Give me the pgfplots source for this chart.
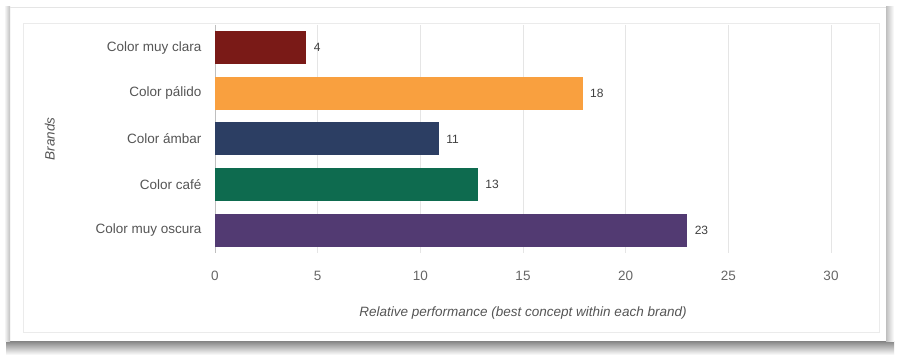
\documentclass[border=0pt]{standalone}
\usepackage{pgfplots}
\pgfplotsset{compat=1.18}
\usepackage{fontspec}
\setmainfont{Liberation Sans}
\definecolor{cRed}{HTML}{7A1A17}
\definecolor{cOrange}{HTML}{F9A03F}
\definecolor{cNavy}{HTML}{2C3E63}
\definecolor{cGreen}{HTML}{0E6B4F}
\definecolor{cPurple}{HTML}{523A72}
\definecolor{tickgray}{HTML}{666666}
\definecolor{labgray}{HTML}{555555}
\begin{document}
\begin{tikzpicture}
\useasboundingbox (0,0) rectangle (898pt,358pt);
\fill[white] (0,0) rectangle (898pt,358pt);
% card shadow / frame
\shade[top color=black!45, bottom color=white] (6pt,3pt) rectangle (894pt,16pt);
\shade[left color=white, right color=black!25] (4pt,16pt) rectangle (10pt,351pt);
\shade[left color=black!25, right color=white] (886pt,16pt) rectangle (894pt,351pt);
\draw[black!10, line width=0.8pt] (10pt,351pt) -- (886pt,351pt);
\draw[black!8, line width=0.8pt] (23pt,26pt) rectangle (879pt,335pt);
\begin{axis}[
  at={(215pt,105pt)}, anchor=south west,
  scale only axis, width=616pt, height=228pt,
  xbar, bar width=33pt, bar shift=0pt,
  xmin=0, xmax=30, ymin=-0.5, ymax=4.5, y dir=reverse,
  ytick={0,1,2,3,4},
  yticklabels={Color muy clara, Color pálido, Color ámbar, Color café, Color muy oscura},
  xtick={0,5,...,30},
  axis x line*=bottom, axis y line*=left,
  x axis line style={draw=none},
  y axis line style={draw=black!25, line width=0.8pt},
  xmajorgrids, grid style={draw=black!10, line width=0.8pt},
  major tick length=0pt,
  /pgf/number format/assume math mode=true,
  xticklabel style={font=\fontsize{13.5}{15}\selectfont, text=tickgray, yshift=-15pt},
  yticklabel style={font=\fontsize{13.5}{15}\selectfont, text=labgray, xshift=-10pt},
  xlabel={\itshape Relative performance (best concept within each brand)},
  ylabel={\itshape Brands},
  xlabel style={font=\fontsize{13.5}{15}\selectfont, text=labgray, at={(axis description cs:0.5,-0.263)}, anchor=center},
  ylabel style={font=\fontsize{13.5}{15}\selectfont, text=labgray, at={(axis description cs:-0.268,0.5)}, anchor=center},
  point meta=explicit symbolic,
  nodes near coords,
  every node near coord/.append style={font=\fontsize{12}{14}\selectfont, text=black!75, anchor=west, xshift=4pt},
  clip=false,
]
\addplot[fill=cRed, draw=none] coordinates {(4.45,0) [4]};
\addplot[fill=cOrange, draw=none] coordinates {(17.9,1) [18]};
\addplot[fill=cNavy, draw=none] coordinates {(10.9,2) [11]};
\addplot[fill=cGreen, draw=none] coordinates {(12.8,3) [13]};
\addplot[fill=cPurple, draw=none] coordinates {(23.0,4) [23]};
\end{axis}
\end{tikzpicture}
\end{document}
